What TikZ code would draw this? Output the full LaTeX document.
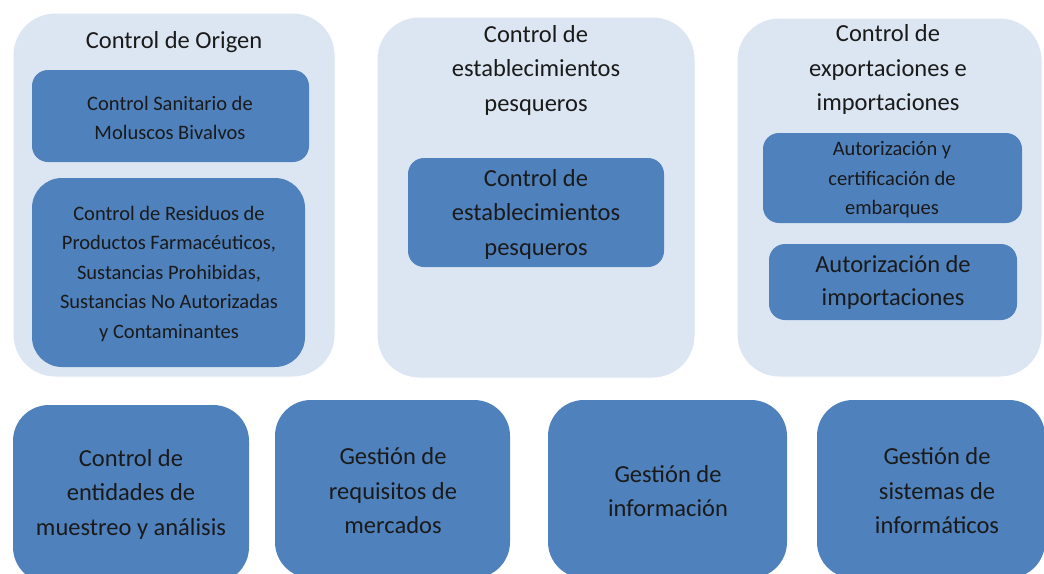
\documentclass[tikz,border=0pt]{standalone}
\usepackage{fontspec}
\setmainfont{Carlito}
\definecolor{outerfill}{HTML}{DCE6F2}
\definecolor{innerfill}{HTML}{4F81BD}
\definecolor{txt}{HTML}{1A1A1A}
\tikzset{
  container/.style={fill=outerfill, draw=white, line width=1pt, rounded corners=42pt, inner sep=0pt},
  innerbox/.style={fill=innerfill, draw=none, rounded corners=16pt, inner sep=0pt},
  bigbox/.style={fill=innerfill, draw=none, rounded corners=36pt, inner sep=0pt},
  bigtext/.style={text=txt, align=center, font=\fontsize{24.5}{34.5}\selectfont, inner sep=0pt},
  smalltext/.style={text=txt, align=center, font=\fontsize{20.5}{29.5}\selectfont, inner sep=0pt},
}
\begin{document}
\begin{tikzpicture}[x=1pt, y=-1pt]
\useasboundingbox (0,0) rectangle (1044,573);
\clip (0,0) rectangle (1044,573);
\fill[white] (0,0) rectangle (1044,573);
% containers
\node[container, minimum width=322pt, minimum height=364pt] (orig) at (174,195) {};
\node[container, minimum width=318pt, minimum height=361pt] (estab) at (536,197.5) {};
\node[container, minimum width=305pt, minimum height=359pt] (expo) at (889.5,197.5) {};
% titles
\node[bigtext] (origT) at (174,42) {Control de Origen};
\node[bigtext] (estabT) at (536,70) {Control de\\establecimientos\\pesqueros};
\node[bigtext] (expoT) at (888,69.5) {Control de\\exportaciones e\\importaciones};
% inner boxes
\node[innerbox, minimum width=277pt, minimum height=92pt] (a1) at (170.5,116) {};
\node[innerbox, rounded corners=30pt, minimum width=273pt, minimum height=189pt] (a2) at (168.5,272.5) {};
\node[innerbox, minimum width=256pt, minimum height=109pt] (b1) at (536,212.5) {};
\node[innerbox, minimum width=259pt, minimum height=90pt] (c1) at (892.5,178) {};
\node[innerbox, minimum width=248pt, minimum height=76pt] (c2) at (893,282) {};
\node[smalltext] (a1T) at (170,118) {Control Sanitario de\\Moluscos Bivalvos};
\node[smalltext] (a2T) at (169,274) {Control de Residuos de\\Productos Farmacéuticos,\\Sustancias Prohibidas,\\Sustancias No Autorizadas\\y Contaminantes};
\node[bigtext] (b1T) at (536,214) {Control de\\establecimientos\\pesqueros};
\node[smalltext] (c1T) at (892,180) {Autorización y\\certificación de\\embarques};
\node[bigtext, font=\fontsize{24.5}{33}\selectfont] (c2T) at (893,282.5) {Autorización de\\importaciones};
% bottom boxes
\node[bigbox, minimum width=236pt, minimum height=178pt] (d1) at (131,494) {};
\node[bigbox, minimum width=235pt, minimum height=178pt] (d2) at (392.5,489) {};
\node[bigbox, minimum width=239pt, minimum height=178pt] (d3) at (667.5,489) {};
\node[bigbox, minimum width=228pt, minimum height=178pt] (d4) at (931,489) {};
\node[bigtext] (d1T) at (131,494) {Control de\\entidades de\\muestreo y análisis};
\node[bigtext] (d2T) at (393,491) {Gestión de\\requisitos de\\mercados};
\node[bigtext] (d3T) at (668,491) {Gestión de\\información};
\node[bigtext] (d4T) at (937,491) {Gestión de\\sistemas de\\informáticos};
\end{tikzpicture}
\end{document}
